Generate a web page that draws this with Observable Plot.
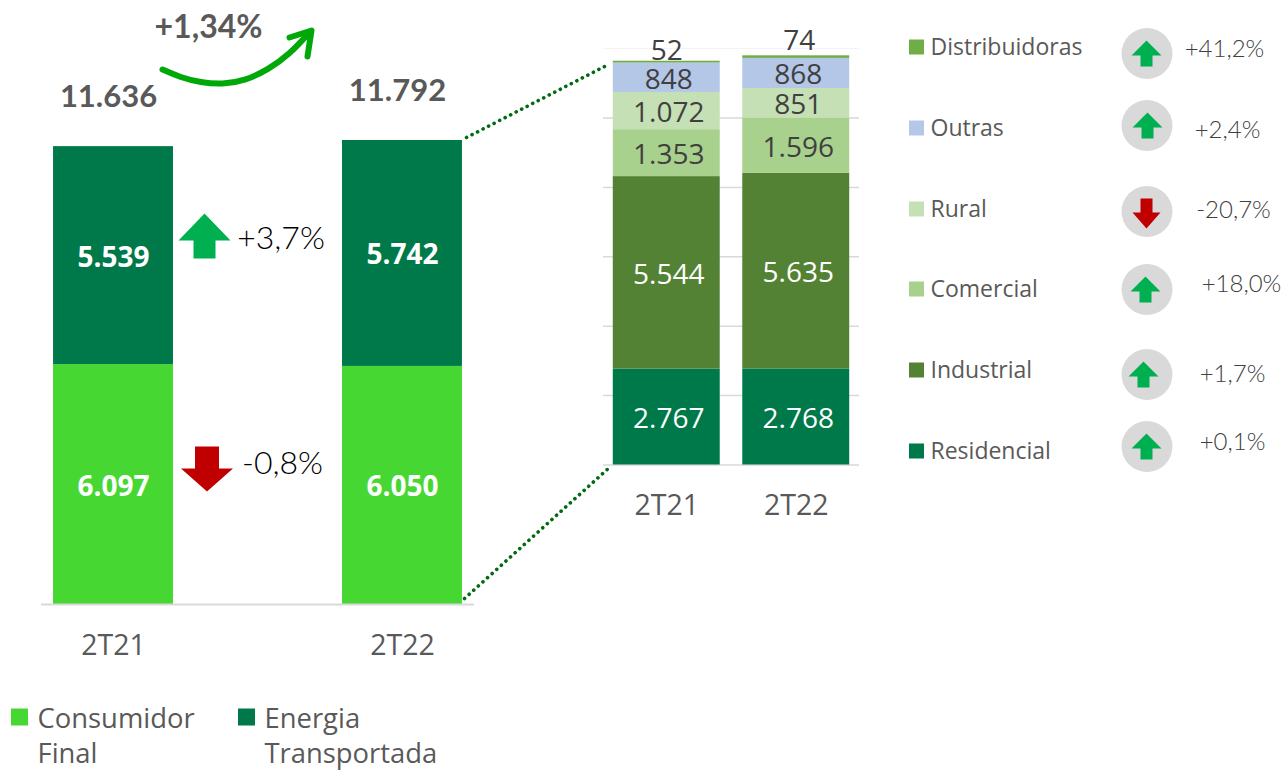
<!DOCTYPE html>
<html><head><meta charset="utf-8">
<script src="https://cdn.jsdelivr.net/npm/d3@7"></script>
<script src="https://cdn.jsdelivr.net/npm/@observablehq/plot@0.6"></script>
<style>
html,body{margin:0;padding:0;background:#fff;overflow:hidden}
#stage{position:relative;width:1286px;height:770px}
#stage>svg{position:absolute;left:0;top:0;background:transparent}
</style></head><body><div id="stage"></div>
<script>
const periods = ["2T21","2T22"];
const mainSeries = ["Consumidor Final","Energia Transportada"];
const consumidorFinal = [6097,6050];
const energiaTransportada = [5539,5742];
const mainTotals = [11636,11792];
const mainColors = ["#47d732","#00794a"];

const segSeries = ["Residencial","Industrial","Comercial","Rural","Outras","Distribuidoras"];
const residencial = [2767,2768];
const industrial = [5544,5635];
const comercial = [1353,1596];
const rural = [1072,851];
const outras = [848,868];
const distribuidoras = [52,74];
const segValues = [residencial,industrial,comercial,rural,outras,distribuidoras];
const segColors = ["#00794a","#548235","#a9d18e","#c5e0b4","#b4c7e7","#70ad47"];
const segTextColors = ["#fff","#fff","#404040","#404040","#404040","#404040"];
const segChanges = ["+0,1%","+1,7%","+18,0%","-20,7%","+2,4%","+41,2%"];
const deltaMain = ["-0,8%","+3,7%"];
const totalChange = "+1,34%";

const W=1286,H=770;
const stage=document.getElementById("stage");
const sans='"Open Sans",sans-serif', geo='Lato,sans-serif';
const fmt=v=>d3.format(",")(v).replace(",",".");
const mainRows = periods.flatMap((p,i)=>[
  {p,s:mainSeries[0],v:consumidorFinal[i]},
  {p,s:mainSeries[1],v:energiaTransportada[i]}]);
const segRows = periods.flatMap((p,i)=>segSeries.map((s,k)=>({p,s,v:segValues[k][i],k})));

const left = Plot.plot({
  width:W,height:H,marginLeft:41,marginRight:W-474,marginTop:0,marginBottom:H-604,
  style:{background:"transparent",fontFamily:sans},
  x:{domain:periods,paddingInner:0.585,paddingOuter:0.0417,round:false,axis:null},
  y:{domain:[0,604/0.03935],axis:null},
  color:{domain:mainSeries,range:mainColors},
  marks:[
    Plot.barY(mainRows,Plot.stackY({x:"p",y:"v",z:"s",fill:"s",order:mainSeries})),
    Plot.text(mainRows,Plot.stackY({x:"p",y:"v",z:"s",order:mainSeries,text:d=>fmt(d.v),fill:"#fff",fontSize:28,fontWeight:700,dy:2})),
    Plot.text(periods,{x:d=>d,frameAnchor:"bottom",dy:50,text:d=>d,fontSize:28.5,fill:"#595959"}),
    Plot.text(periods,{x:d=>d,y:(d,i)=>mainTotals[i],dx:-5,dy:-49.5,text:(d,i)=>fmt(mainTotals[i]),fontSize:31,fontWeight:700,fontFamily:geo,fill:"#595959"}),
    Plot.ruleY([0],{stroke:"#d9d9d9",strokeWidth:2})
  ]
});
stage.append(left);

const right = Plot.plot({
  width:W,height:H,marginLeft:603,marginRight:W-859,marginTop:0,marginBottom:H-464.5,
  style:{background:"transparent",fontFamily:sans},
  x:{domain:periods,paddingInner:0.174,paddingOuter:0.0755,round:false,axis:null},
  y:{domain:[0,464.5/0.0347],axis:null},
  color:{domain:segSeries,range:segColors},
  marks:[
    Plot.ruleY([0,2000,4000,6000,8000,10000],{stroke:"#d9d9d9",strokeWidth:1.5}),
    Plot.ruleY([12000],{stroke:"#f2f2f2",strokeWidth:1}),
    Plot.barY(segRows,Plot.stackY({x:"p",y:"v",z:"s",fill:"s",order:segSeries})),
    Plot.text(segRows,Plot.stackY({x:"p",y:"v",z:"s",order:segSeries,filter:d=>d.k<5,text:d=>fmt(d.v),fill:d=>segTextColors[d.k],fontSize:28,dx:2,dy:2})),
    Plot.text(segRows,{filter:d=>d.k==5&&d.p==periods[0],x:"p",y:d=>mainTotals[0],dy:-10,text:"v",fontSize:28,fill:"#404040"}),
    Plot.text(segRows,{filter:d=>d.k==5&&d.p==periods[1],x:"p",y:d=>mainTotals[1],dx:3,dy:-15,text:"v",fontSize:28,fill:"#404040"}),
    Plot.text(periods,{x:d=>d,frameAnchor:"bottom",dy:50,text:d=>d,fontSize:28.5,fill:"#595959"})
  ]
});
stage.append(right);

const legendY=[451,370,289,209,128,47], circleY=[446,374,289,211,125,53], arrowX=[1146,1143,1145,1146,1147,1146], pctX=[1232,1232,1241,1233,1227,1224], pctY=[442,374,284,210,130,49];
const arrowPts=(cx,cy,dir,hw,sh,hh,sw)=>{
  const s=-dir;
  return [[cx,cy+s*hh],[cx+hw,cy],[cx+sw,cy],[cx+sw,cy-s*sh],[cx-sw,cy-s*sh],[cx-sw,cy],[cx-hw,cy],[cx,cy+s*hh]]
    .map(p=>({x:p[0],y:p[1]}));
};
const arrowMark=(cx,cy,dir,hw,sh,hh,sw)=>Plot.line(arrowPts(cx,cy,dir,hw,sh,hh,sw),{x:"x",y:"y",stroke:"none",fill:dir>0?"#00b050":"#c00000",curve:"linear"});
const dirs=segChanges.map(d=>d[0]=="+"?1:-1);
const curve=[[162,69],[180,77],[200,82],[222,84],[245,80],[268,69],[290,53],[308,33]].map(p=>({x:p[0],y:p[1]}));
const head=[[289,37],[311,30],[307,56]].map(p=>({x:p[0],y:p[1]}));
const leader=[[{x:466,y:137},{x:606,y:65}],[{x:464,y:598},{x:610,y:466}]];
const swatch=(x,y,c,s)=>Plot.rect([{x}],{x1:x,x2:x+s,y1:y-s/2,y2:y+s/2,fill:c});
const over = Plot.plot({
  width:W,height:H,margin:0,
  style:{background:"transparent",fontFamily:sans},
  x:{type:"linear",domain:[0,W],range:[0,W],axis:null},
  y:{type:"linear",domain:[0,H],range:[0,H],axis:null},
  marks:[
    ...leader.map(l=>Plot.line(l,{x:"x",y:"y",stroke:"#006a10",strokeWidth:3.6,strokeDasharray:"0.1 6.1",strokeLinecap:"round"})),
    Plot.line(curve,{x:"x",y:"y",curve:"basis",stroke:"#00a808",strokeWidth:6,strokeLinecap:"round"}),
    Plot.line(head,{x:"x",y:"y",curve:"linear",stroke:"#00a808",strokeWidth:6,strokeLinecap:"round",strokeLinejoin:"round"}),
    Plot.text([totalChange],{x:[208],y:[27],text:d=>d,fontSize:32,fontWeight:700,fontFamily:geo,fill:"#595959"}),
    arrowMark(204,240,1,26,18,27,11),
    Plot.text([deltaMain[1]],{x:[280.5],y:[238],text:d=>d,fontSize:32,fontFamily:geo,fontWeight:300,fill:"#000"}),
    arrowMark(206.5,468,-1,26,22,23,12),
    Plot.text([deltaMain[0]],{x:[282],y:[463],text:d=>d,fontSize:32,fontFamily:geo,fontWeight:300,fill:"#000"}),
    swatch(11,717,mainColors[0],17), swatch(238,717,mainColors[1],17),
    Plot.text(["Consumidor"],{x:[37],y:[719],text:d=>d,textAnchor:"start",fontSize:27.4,fill:"#595959"}),
    Plot.text(["Final"],{x:[37],y:[754],text:d=>d,textAnchor:"start",fontSize:27.4,fill:"#595959"}),
    Plot.text(["Energia"],{x:[264],y:[719],text:d=>d,textAnchor:"start",fontSize:27.4,fill:"#595959"}),
    Plot.text(["Transportada"],{x:[264],y:[754],text:d=>d,textAnchor:"start",fontSize:27.4,fill:"#595959"}),
    ...segSeries.map((s,i)=>swatch(909,legendY[i],segColors[i],15)),
    Plot.text(segSeries,{x:930,y:(d,i)=>legendY[i],text:d=>d,textAnchor:"start",fontSize:23,fill:"#595959"}),
    Plot.dot(segSeries,{x:1146.5,y:(d,i)=>circleY[i],r:25.5,fill:"#d9d9d9"}),
    ...segSeries.map((s,i)=>dirs[i]>0?arrowMark(arrowX[i],circleY[i]+2,1,15,11,15,6):arrowMark(arrowX[i],circleY[i]+1,-1,14,14,16,6)),
    Plot.text(segChanges,{x:(d,i)=>pctX[i],y:(d,i)=>pctY[i],text:d=>d,fontSize:24,fontFamily:geo,fontWeight:300,fill:"#404040"})
  ]
});
stage.append(over);
</script></body></html>
